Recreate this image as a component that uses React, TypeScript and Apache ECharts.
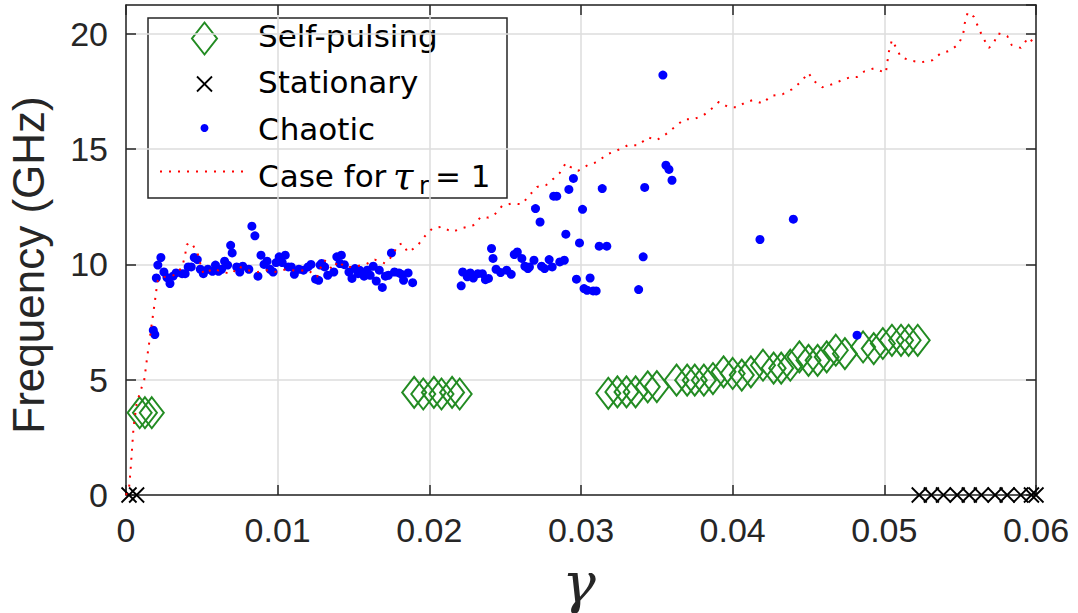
import React, { useEffect, useRef } from "react";
import * as echarts from "echarts";

// ---- data ----
const xTicks = [0, 0.01, 0.02, 0.03, 0.04, 0.05, 0.06];
const yTicks = [0, 5, 10, 15, 20];

const selfPulsingX = [
  0.0009, 0.00125, 0.0017,
  0.019, 0.0196, 0.0203, 0.0208, 0.0215, 0.022,
  0.0318, 0.0324, 0.033, 0.0336, 0.0344, 0.035, 0.0363, 0.037, 0.0375, 0.0381,
  0.0387, 0.0394, 0.04, 0.0406, 0.0412, 0.042, 0.0427, 0.0432, 0.0438, 0.0444,
  0.045, 0.0456, 0.0462, 0.0468, 0.0474, 0.0486, 0.0493, 0.0499, 0.0505, 0.0511,
  0.0516, 0.0522,
];
const selfPulsingY = [
  3.57, 3.57, 3.57,
  4.45, 4.38, 4.45, 4.38, 4.45, 4.38,
  4.41, 4.47, 4.47, 4.47, 4.69, 4.7, 4.98, 4.98, 4.98, 4.98,
  5.05, 5.34, 5.27, 5.2, 5.34, 5.63, 5.5, 5.5, 5.63, 5.99,
  5.84, 5.84, 5.99, 6.28, 6.13, 6.42, 6.35, 6.57, 6.71, 6.71,
  6.71, 6.71,
];

const stationaryX = [
  0.0002, 0.0007,
  0.0523, 0.0531, 0.0539, 0.0548, 0.0556, 0.0564, 0.0573, 0.0581, 0.059,
  0.0597, 0.06,
];
const stationaryY = [0, 0, 0, 0, 0, 0, 0, 0, 0, 0, 0, 0, 0];

const chaoticX = [
  0.0018, 0.0019, 0.002, 0.0021, 0.0023, 0.0025, 0.0027, 0.0029, 0.0031, 0.0033,
  0.0037, 0.0039, 0.0041, 0.0043, 0.0045, 0.0047, 0.0049, 0.0051, 0.0054, 0.0057,
  0.0059, 0.0061, 0.0063, 0.0065, 0.0067, 0.0069, 0.007, 0.0073, 0.0075, 0.0077,
  0.0081, 0.0083, 0.0085, 0.0087, 0.0089, 0.0091, 0.0093, 0.0095, 0.0097, 0.0099,
  0.0101, 0.0103, 0.0105, 0.0107, 0.0109, 0.0111, 0.0114, 0.0117, 0.012, 0.0122,
  0.0125, 0.0127, 0.0128, 0.0129, 0.0131, 0.0133, 0.0137, 0.0139, 0.0141, 0.0142,
  0.0144, 0.0147, 0.0149, 0.0151, 0.0153, 0.0154, 0.0157, 0.0159, 0.0161, 0.0163,
  0.0165, 0.0167, 0.0169, 0.0171, 0.0173, 0.0175, 0.0177, 0.018, 0.0182, 0.0183,
  0.0186, 0.0189,
  0.0221, 0.0222, 0.0225, 0.0227, 0.0229, 0.0232, 0.0235, 0.0237, 0.0239, 0.0241,
  0.0242, 0.0244, 0.0247, 0.0251, 0.0254, 0.0256, 0.0258, 0.0261, 0.0263, 0.0265,
  0.0266, 0.0269, 0.027, 0.0273, 0.0274, 0.0276, 0.0279, 0.0281, 0.0282, 0.0284,
  0.0286, 0.0289, 0.029, 0.0292, 0.0295, 0.0297, 0.0299, 0.0301, 0.0302, 0.0304,
  0.0306, 0.0308, 0.031, 0.0312, 0.0314, 0.0317,
  0.0338, 0.0341, 0.0342, 0.0354, 0.0356, 0.0358, 0.036,
  0.0418, 0.044, 0.0482,
];
const chaoticY = [
  7.15, 6.96, 9.41, 9.97, 10.3, 9.67, 9.43, 9.17, 9.49, 9.63,
  9.6, 9.6, 9.89, 9.89, 10.3, 10.21, 9.79, 9.6, 9.79, 9.7,
  9.97, 9.7, 9.79, 10.14, 9.97, 10.83, 10.5, 9.89, 9.67, 9.92,
  9.79, 11.66, 11.24, 9.49, 10.4, 10.0, 10.14, 9.79, 9.67, 10.08,
  10.33, 10.08, 10.4, 9.89, 9.89, 9.57, 9.79, 9.75, 9.89, 10.0,
  9.36, 9.31, 9.97, 10.04, 9.89, 9.53, 9.67, 10.33, 10.04, 10.4,
  9.99, 9.67, 9.39, 9.82, 9.6, 9.75, 9.49, 9.75, 9.53, 9.92,
  9.28, 9.75, 9.0, 9.49, 9.53, 10.5, 9.67, 9.63, 9.56, 9.31,
  9.63, 9.21,
  9.07, 9.67, 9.46, 9.63, 9.41, 9.6, 9.6, 9.34, 9.39, 10.69,
  10.26, 9.79, 9.65, 9.75, 9.57, 10.43, 10.54, 10.26, 9.92, 9.82,
  9.89, 10.18, 12.42, 11.84, 9.92, 9.82, 10.21, 9.89, 12.96, 12.96,
  10.11, 10.18, 11.31, 13.25, 13.73, 9.36, 10.93, 12.39, 8.95, 8.88,
  9.41, 8.85, 8.85, 10.79, 13.29, 10.79,
  8.91, 10.33, 13.34, 18.21, 14.3, 14.12, 13.65,
  11.08, 11.96, 6.93,
];

const caseX = [
  0, 0.0002, 0.0003, 0.0004, 0.0005, 0.0007, 0.001, 0.0012, 0.0013, 0.0014,
  0.0015, 0.0016, 0.0017, 0.0018, 0.0019, 0.002, 0.0021, 0.0023, 0.0026, 0.003,
  0.0033, 0.0037, 0.0039, 0.004, 0.0043, 0.0047, 0.0049, 0.0051, 0.0058, 0.0063,
  0.007, 0.0074, 0.008, 0.0087, 0.0093, 0.0098, 0.0105, 0.0113, 0.012, 0.0126,
  0.0128, 0.0131, 0.0136, 0.014, 0.0144, 0.015, 0.0158, 0.0164, 0.0171, 0.0176,
  0.0179, 0.0182, 0.0186, 0.0192, 0.0197, 0.0202, 0.0208, 0.0215, 0.0222, 0.0229,
  0.0234, 0.0239, 0.0243, 0.0248, 0.0254, 0.0261, 0.0266, 0.0271, 0.0277, 0.0282,
  0.0286, 0.029, 0.0293, 0.0298, 0.0305, 0.0311, 0.0317, 0.0324, 0.0331, 0.0338,
  0.0344, 0.035, 0.0356, 0.0362, 0.0368, 0.0374, 0.0381, 0.0387, 0.0391, 0.0397,
  0.0403, 0.0408, 0.0413, 0.042, 0.0425, 0.0433, 0.0439, 0.0445, 0.045, 0.0453,
  0.0459, 0.0466, 0.0472, 0.0478, 0.0482, 0.0487, 0.0493, 0.0498, 0.0501, 0.0502,
  0.0503, 0.0505, 0.0508, 0.0511, 0.0518, 0.0524, 0.0532, 0.0537, 0.0543, 0.0549,
  0.0552, 0.0553, 0.0555, 0.0559, 0.0562, 0.0565, 0.0569, 0.0572, 0.0575, 0.0581,
  0.0584, 0.059, 0.0595, 0.0599, 0.06,
];
const caseY = [
  0, 0.3, 1.07, 2.01, 2.95, 3.96, 4.6, 4.98, 5.48, 6.0,
  6.46, 6.95, 7.43, 7.9, 8.37, 8.88, 9.31, 9.45, 9.46, 9.5,
  9.57, 9.89, 10.4, 10.86, 10.95, 10.52, 10.04, 9.6, 9.82, 9.67,
  9.6, 9.92, 9.75, 9.67, 9.75, 9.67, 9.78, 9.72, 9.75, 9.46,
  9.82, 10.18, 9.78, 10.15, 9.89, 9.89, 10.0, 10.21, 10.04, 10.4,
  10.83, 10.91, 10.52, 10.8, 11.22, 11.56, 11.63, 11.41, 11.58, 11.7,
  12.06, 12.03, 12.16, 12.54, 12.64, 12.61, 13.0, 13.36, 13.44, 13.73,
  13.97, 14.4, 14.23, 14.06, 14.33, 14.45, 14.77, 14.95, 15.17, 15.17,
  15.51, 15.39, 15.65, 15.97, 16.29, 16.29, 16.48, 16.8, 17.05, 16.83,
  16.81, 17.01, 17.12, 16.98, 17.31, 17.38, 17.59, 17.92, 18.31, 17.99,
  17.68, 17.82, 17.99, 18.13, 18.13, 18.38, 18.5, 18.38, 18.31, 18.78,
  19.22, 19.73, 19.37, 18.98, 18.83, 18.76, 18.86, 19.15, 19.26, 19.55,
  19.99, 20.45, 20.93, 20.74, 20.28, 19.84, 19.39, 19.58, 20.02, 19.91,
  19.51, 19.39, 19.84, 19.58, 19.7,
];

const legendLabels = ["Self-pulsing", "Stationary", "Chaotic", "Case for"];

const zip = (xs: number[], ys: number[]) => xs.map((x, i) => [x, ys[i]]);

const AX = "#262626";
const FONT = "Liberation Sans";
const LFONT = "DejaVu Sans";

export default function App() {
  const ref = useRef<HTMLDivElement>(null);
  useEffect(() => {
    const chart = echarts.init(ref.current!, null, { renderer: "svg" });
    const xFmt = (v: number) => {
      const hit = xTicks.find((t) => Math.abs(t - v) < 1e-9);
      return hit === undefined ? "" : hit === 0 ? "0" : hit.toFixed(2);
    };
    const yFmt = (v: number) => {
      const hit = yTicks.find((t) => Math.abs(t - v) < 1e-9);
      return hit === undefined ? "" : String(hit);
    };
    const baseX = {
      type: "value",
      min: 0,
      max: 0.06,
      interval: 0.01,
      axisLine: { show: true, onZero: false, lineStyle: { color: AX, width: 1.5 } },
      axisTick: { show: true, inside: true, length: 10, lineStyle: { color: AX, width: 1.5 } },
    };
    const baseY = {
      type: "value",
      min: 0,
      max: 21.25,
      interval: 5,
      axisLine: { show: true, onZero: false, lineStyle: { color: AX, width: 1.5 } },
      axisTick: { show: true, inside: true, length: 10, lineStyle: { color: AX, width: 1.5 } },
    };
    const legX = 204.5;
    const symRows = [38.5, 84, 128, 171.5];
    const textRows = [36, 82, 128.5, 175.5];
    const fs = 31;
    const textX = 258;
    chart.setOption({
      animation: false,
      grid: { left: 126, right: 42, top: 5, bottom: 118, containLabel: false },
      xAxis: [
        {
          ...baseX,
          position: "bottom",
          axisLabel: {
            show: true, margin: 18, color: AX, fontFamily: FONT, fontSize: 34,
            formatter: xFmt, showMaxLabel: true, showMinLabel: true,
          },
          splitLine: { show: true, lineStyle: { color: "#dcdcdc", width: 1.5 } },
        },
        {
          ...baseX,
          position: "top",
          axisLabel: { show: false },
          splitLine: { show: false },
        },
      ],
      yAxis: [
        {
          ...baseY,
          position: "left",
          axisLabel: {
            show: true, margin: 18, color: AX, fontFamily: FONT, fontSize: 34,
            formatter: yFmt, showMaxLabel: false,
          },
          splitLine: { show: true, lineStyle: { color: "#dcdcdc", width: 1.5 } },
        },
        {
          ...baseY,
          position: "right",
          axisLabel: { show: false },
          splitLine: { show: false },
        },
      ],
      series: [
        {
          name: "Self-pulsing",
          type: "scatter",
          data: zip(selfPulsingX, selfPulsingY),
          symbol: "diamond",
          symbolSize: [24, 31],
          itemStyle: { color: "rgba(0,0,0,0)", borderColor: "#228B22", borderWidth: 2, opacity: 1 },
        },
        {
          name: "Stationary",
          type: "scatter",
          data: zip(stationaryX, stationaryY),
          symbol: "path://M0,0L10,10M10,0L0,10",
          symbolSize: 15,
          itemStyle: { color: "rgba(0,0,0,0)", borderColor: "#000000", borderWidth: 1.8, opacity: 1 },
        },
        {
          name: "Chaotic",
          type: "scatter",
          data: zip(chaoticX, chaoticY),
          symbol: "circle",
          symbolSize: 9,
          itemStyle: { color: "#0000ff", opacity: 1 },
        },
        {
          name: "Case",
          type: "line",
          data: zip(caseX, caseY),
          showSymbol: false,
          symbol: "none",
          lineStyle: { color: "#ff0000", width: 2, type: [2, 7], opacity: 1 },
        },
      ],
      graphic: [
        {
          type: "text",
          x: 28,
          y: 265,
          rotation: Math.PI / 2,
          style: {
            text: "Frequency (GHz)", fill: AX, font: `44px "${FONT}"`,
            align: "center", verticalAlign: "middle",
          },
        },
        {
          type: "text",
          x: 579,
          y: 582,
          style: {
            text: "γ", fill: AX, font: `italic 56px "DejaVu Serif"`,
            align: "center", verticalAlign: "middle",
          },
        },
        {
          type: "group",
          z: 100,
          children: [
            {
              type: "rect",
              shape: { x: 148, y: 18, width: 359, height: 180 },
              style: { fill: "#ffffff", stroke: AX, lineWidth: 1.5 },
            },
            {
              type: "polygon",
              shape: { points: [[legX, symRows[0] - 16], [legX + 12.5, symRows[0]], [legX, symRows[0] + 16], [legX - 12.5, symRows[0]]] },
              style: { fill: "none", stroke: "#228B22", lineWidth: 2 },
            },
            {
              type: "line",
              shape: { x1: legX - 7.5, y1: symRows[1] - 7.5, x2: legX + 7.5, y2: symRows[1] + 7.5 },
              style: { stroke: "#000", lineWidth: 1.8 },
            },
            {
              type: "line",
              shape: { x1: legX + 7.5, y1: symRows[1] - 7.5, x2: legX - 7.5, y2: symRows[1] + 7.5 },
              style: { stroke: "#000", lineWidth: 1.8 },
            },
            {
              type: "circle",
              shape: { cx: legX, cy: symRows[2], r: 4 },
              style: { fill: "#0000ff" },
            },
            {
              type: "line",
              shape: { x1: 160, y1: symRows[3], x2: 246, y2: symRows[3] },
              style: { stroke: "#ff0000", lineWidth: 2, lineDash: [2, 7] },
            },
            ...legendLabels.map((t, i) => ({
              type: "text",
              x: textX,
              y: textRows[i],
              style: { text: t, fill: "#000", font: `${fs}px "${LFONT}"`, align: "left", verticalAlign: "middle" },
            })),
            {
              type: "text",
              x: 393,
              y: textRows[3] + 1,
              style: { text: "τ", fill: "#000", font: `italic 37px "DejaVu Serif"`, align: "left", verticalAlign: "middle" },
            },
            {
              type: "text",
              x: 419,
              y: textRows[3] + 10,
              style: { text: "r", fill: "#000", font: `24px "${LFONT}"`, align: "left", verticalAlign: "middle" },
            },
            {
              type: "text",
              x: 435,
              y: textRows[3],
              style: { text: "= 1", fill: "#000", font: `${fs}px "${LFONT}"`, align: "left", verticalAlign: "middle" },
            },
          ],
        },
      ],
    });
    return () => chart.dispose();
  }, []);
  return (
    <div
      ref={ref}
      style={{ position: "absolute", left: 0, top: 0, width: 1078, height: 613, background: "#fff" }}
    />
  );
}
